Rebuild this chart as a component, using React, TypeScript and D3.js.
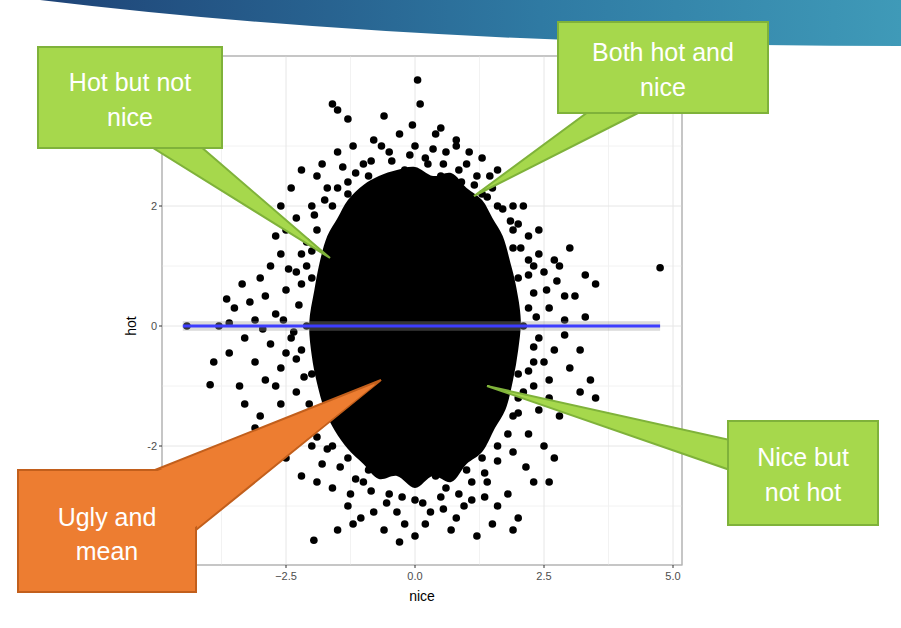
import * as d3 from "d3";

// dense core outline (data units)
const coreX = [0, 0.35, 0.7, 1.0, 1.3, 1.5, 1.7, 1.85, 1.95, 2.05, 2.0, 1.9, 1.75, 1.55, 1.3, 1.0, 0.7, 0.35, 0, -0.35, -0.7, -1.0, -1.3, -1.55, -1.75, -1.9, -2.0, -2.05, -1.95, -1.85, -1.7, -1.5, -1.3, -1.0, -0.7, -0.35];
const coreY = [2.65, 2.5, 2.55, 2.3, 2.1, 1.8, 1.5, 1.05, 0.7, 0.1, -0.4, -0.9, -1.4, -1.7, -2.1, -2.3, -2.6, -2.5, -2.7, -2.5, -2.55, -2.3, -2.05, -1.75, -1.4, -0.95, -0.5, 0.05, 0.6, 1.05, 1.5, 1.8, 2.1, 2.35, 2.5, 2.6];

// scattered points (nice, hot)
const pts: [number, number][] = [
  [-1.5, 2.9], [-1.2, 3.0], [-1.0, 2.7], [-0.8, 3.1], [-0.5, 2.9], [-0.3, 3.2], [0, 3.0], [0.2, 2.8], [0.4, 3.2], [0.6, 2.9],
  [0.8, 3.1], [1.0, 2.7], [1.2, 2.5], [1.3, 2.8], [-1.9, 2.5], [-2.2, 2.6], [-1.7, 2.3], [-0.9, 2.5], [0.1, 2.5], [0.5, 2.5],
  [0.9, 2.4], [-0.2, 2.6], [-1.3, 2.4], [1.5, 2.3], [1.6, 2.6], [-2.4, 2.3],
  [-2.0, 2.0], [-2.3, 1.8], [-2.5, 1.6], [-2.1, 1.4], [-2.6, 1.2], [-2.8, 1.0], [-2.3, 0.9], [1.9, 2.0], [2.0, 1.7], [2.2, 1.5],
  [1.9, 1.3], [2.4, 1.2], [2.5, 0.9], [2.3, 1.0], [2.7, 1.1], [2.8, 1.0], [3.3, 0.85], [3.5, 0.7], [2.9, 0.5], [3.1, 0.5],
  [-2.5, 0.6], [-2.9, 0.5], [-3.2, 0.4], [-3.5, 0.3], [-2.7, 0.2], [-3.1, 0.1], [-3.8, 0.0], [-3.6, 0.05], [-2.4, -0.2], [-2.8, -0.3],
  [-3.3, -0.2], [-3.6, -0.45], [-3.9, -0.6], [-3.1, -0.6], [-2.6, -0.7], [-2.9, -0.9], [-3.4, -1.0], [2.2, 0.3], [2.6, 0.3], [2.9, 0.1],
  [3.3, 0.15], [2.4, -0.2], [2.7, -0.4], [3.0, -0.7], [3.4, -0.9], [3.5, -1.2], [3.2, -1.1], [2.3, -0.6], [2.6, -0.9],
  [-2.3, -1.1], [-2.6, -1.3], [-3.0, -1.5], [-3.3, -1.3], [-2.2, -1.6], [-2.8, -1.8], [-3.1, -1.7], [-2.0, -2.0], [-2.5, -2.2], [-1.8, -2.3],
  [2.0, -1.2], [2.4, -1.4], [2.8, -1.5], [2.2, -1.8], [2.5, -2.0], [2.7, -2.2], [1.9, -2.1], [2.6, -2.6],
  [-1.6, -2.7], [-1.3, -3.0], [-1.0, -2.6], [-0.8, -3.1], [-0.5, -2.8], [-0.2, -3.3], [0, -2.9], [0.3, -3.1], [0.6, -2.7], [0.8, -3.2],
  [1.1, -2.9], [1.4, -2.6], [1.6, -3.0], [1.8, -2.8], [-1.5, -3.4], [-1.2, -3.3], [-0.6, -3.4], [-0.3, -3.6], [0.0, -3.5], [0.2, -3.3],
  [0.7, -3.4], [1.2, -3.5], [1.5, -3.3], [1.9, -3.4], [2.0, -3.2], [-1.96, -3.57], [-1.9, -2.6], [-0.9, -2.4], [0.4, -2.5], [1.0, -2.4],
  [0.05, 4.1], [-1.6, 3.7], [-1.5, 3.6], [-1.3, 3.45], [-0.6, 3.5], [0.1, 3.7], [0.5, 3.3], [0.8, 3.0], [4.75, 0.97], [-3.97, -0.98],
  [-4.42, 0.0], [-3.65, 0.45],
  [-1.9, 1.6], [-2.0, 0.8], [-2.1, 0.0], [-2.0, -0.8], [-1.9, -1.5], [1.9, 1.6], [2.0, 0.8], [2.1, 0.0], [2.0, -0.8], [1.9, -1.5],
  [-1.3, 2.2], [1.3, 2.2], [-1.3, -2.2], [1.3, -2.2], [0, 2.4], [0, -2.4], [-0.7, 2.4], [0.7, 2.4], [-0.7, -2.4], [0.7, -2.4],
  [-2.2, 1.2], [-2.2, -0.4], [2.2, 1.1], [2.3, -1.0], [-1.6, 2.0], [1.6, 2.0], [-1.6, -2.0], [1.6, -2.0],
  // dense fringe just outside the core
  [-2.25, 0.35], [-2.35, -0.1], [-2.3, -0.55], [-2.15, -0.85], [-2.2, 0.7], [-2.1, 1.0], [-2.0, 1.25], [-1.95, 1.85], [-1.75, 2.1], [-1.5, 2.3],
  [-1.15, 2.55], [-0.85, 2.75], [-0.45, 2.75], [-0.1, 2.85], [0.25, 2.7], [0.55, 2.7], [0.85, 2.6], [1.15, 2.35], [1.4, 2.15], [1.7, 1.95],
  [1.85, 1.75], [2.05, 1.3], [2.2, 0.85], [2.3, 0.55], [2.35, 0.15], [2.3, -0.35], [2.2, -0.75], [2.1, -1.1], [2.0, -1.45], [1.8, -1.8],
  [1.6, -2.25], [1.35, -2.45], [1.1, -2.6], [0.85, -2.8], [0.5, -2.85], [0.15, -2.95], [-0.25, -2.85], [-0.55, -2.95], [-0.85, -2.75], [-1.15, -2.55],
  [-1.45, -2.35], [-1.7, -2.05], [-1.9, -1.85], [-2.05, -1.3], [-2.15, -1.5], [-2.45, 0.95], [-2.5, -0.45], [-2.55, 0.1], [2.55, 0.6], [2.5, -0.6],
  [-1.4, 2.65], [-0.65, 3.0], [0.35, 2.95], [1.05, 2.9], [1.45, 2.5], [-1.8, 2.7], [2.1, 2.0], [2.4, 1.6], [-2.7, 1.5], [-2.6, 2.0],
  [-1.25, -2.8], [-0.35, -3.1], [0.55, -3.05], [1.35, -2.85], [2.15, -2.35], [-2.35, -1.9], [-2.7, -1.0], [2.6, -1.2], [-1.05, -3.2], [0.95, -3.0],
  [2.9, -0.15], [2.75, 0.75], [-3.0, 0.8], [-2.95, -0.05], [3.2, -0.4], [-3.35, 0.7], [3.0, 1.3], [-2.2, -2.5], [2.3, -2.6], [-0.05, 3.35],
];

const xTicks = [-2.5, 0, 2.5, 5];
const yTicks = [-2, 0, 2];
const xMinor = [-3.75, -1.25, 1.25, 3.75];
const yMinor = [-3, -1, 1, 3];
const fitX = [-4.5, 4.75];
const fitY = [0, 0];

const P = { left: 162, right: 682, top: 56, bottom: 565 };

export default function App() {
  const x = d3.scaleLinear().domain([0, 2.5]).range([415, 544]);
  const y = d3.scaleLinear().domain([0, 2]).range([326, 206]);
  const core = d3.line<number>().x((i) => x(coreX[i])).y((i) => y(coreY[i])).curve(d3.curveCatmullRomClosed)(coreX.map((_, i) => i))!;
  const fit = d3.line<number>().x((i) => x(fitX[i])).y((i) => y(fitY[i]))(fitX.map((_, i) => i))!;
  const green = "#a6d84c", greenS = "#7fb23a", orange = "#ed7d31", orangeS = "#c25f1c";
  const ct = { fill: "#fff", fontSize: 25, fontFamily: "'Liberation Sans Narrow','Liberation Sans',Arial,sans-serif", textAnchor: "middle" as const };
  return (
    <div style={{ position: "fixed", left: 0, top: 0 }}>
      <svg width={901} height={628} style={{ display: "block", background: "#fff" }}>
        <defs>
          <linearGradient id="hdr" x1="0" x2="1" y1="0" y2="0">
            <stop offset="0%" stopColor="#1d3f73" />
            <stop offset="60%" stopColor="#2f7aa3" />
            <stop offset="100%" stopColor="#3f9ab8" />
          </linearGradient>
        </defs>
        <path d="M0,0 L901,0 L901,46 Q420,46 40,0 Z" fill="url(#hdr)" />
        <rect x={P.left} y={P.top} width={P.right - P.left} height={P.bottom - P.top} fill="#fff" stroke="#b3b3b3" />
        {xMinor.map((t) => <line key={"xm" + t} x1={x(t)} x2={x(t)} y1={P.top} y2={P.bottom} stroke="#f2f2f2" />)}
        {yMinor.map((t) => <line key={"ym" + t} y1={y(t)} y2={y(t)} x1={P.left} x2={P.right} stroke="#f2f2f2" />)}
        {xTicks.map((t) => <line key={"x" + t} x1={x(t)} x2={x(t)} y1={P.top} y2={P.bottom} stroke="#e6e6e6" />)}
        {yTicks.map((t) => <line key={"y" + t} y1={y(t)} y2={y(t)} x1={P.left} x2={P.right} stroke="#e6e6e6" />)}
        <path d={core} fill="#000" />
        {pts.map(([a, b], i) => <circle key={i} cx={x(a)} cy={y(b)} r={3.8} fill="#000" />)}
        <rect x={x(fitX[0])} y={y(0.08)} width={x(fitX[1]) - x(fitX[0])} height={y(-0.08) - y(0.08)} fill="#999" opacity={0.35} />
        <path d={fit} stroke="#3d3dff" strokeWidth={3} fill="none" />
        <rect x={P.left} y={P.top} width={P.right - P.left} height={P.bottom - P.top} fill="none" stroke="#b3b3b3" />
        {xTicks.map((t) => (
          <g key={"xt" + t}>
            <line x1={x(t)} x2={x(t)} y1={P.bottom} y2={P.bottom + 3} stroke="#333" />
            <text x={x(t)} y={P.bottom + 15} fontSize={11} fill="#4d4d4d" textAnchor="middle" fontFamily="Liberation Sans, Arial">{d3.format(".1f")(t)}</text>
          </g>
        ))}
        {yTicks.map((t) => (
          <g key={"yt" + t}>
            <line x1={P.left - 3} x2={P.left} y1={y(t)} y2={y(t)} stroke="#333" />
            <text x={P.left - 5} y={y(t) + 4} fontSize={11} fill="#4d4d4d" textAnchor="end" fontFamily="Liberation Sans, Arial">{t}</text>
          </g>
        ))}
        <text x={(P.left + P.right) / 2} y={601} fontSize={14} textAnchor="middle" fontFamily="Liberation Sans, Arial">nice</text>
        <text transform={`translate(136,${y(0)}) rotate(-90)`} fontSize={14} textAnchor="middle" fontFamily="Liberation Sans, Arial">hot</text>

        <polygon points="150,146 200,146 330,258" fill={green} stroke={greenS} strokeWidth={2} />
        <rect x={38} y={47} width={184} height={101} fill={green} stroke={greenS} strokeWidth={2} />
        <polygon points="588,112 640,112 474,196" fill={green} stroke={greenS} strokeWidth={2} />
        <rect x={558} y={22} width={210} height={91} fill={green} stroke={greenS} strokeWidth={2} />
        <polygon points="730,440 730,470 487,386" fill={green} stroke={greenS} strokeWidth={2} />
        <rect x={728} y={421} width={150} height={104} fill={green} stroke={greenS} strokeWidth={2} />
        <polygon points="150,472 196,472 196,530 381,380" fill={orange} stroke={orangeS} strokeWidth={2} />
        <rect x={18} y={470} width={178} height={122} fill={orange} stroke={orangeS} strokeWidth={2} />
        <polygon points="150,474 194,474 194,528 376,384" fill={orange} />

        <text {...ct} x={130} y={91}>Hot but not</text>
        <text {...ct} x={130} y={126}>nice</text>
        <text {...ct} x={663} y={61}>Both hot and</text>
        <text {...ct} x={663} y={96}>nice</text>
        <text {...ct} x={803} y={466}>Nice but</text>
        <text {...ct} x={803} y={501}>not hot</text>
        <text {...ct} x={107} y={526}>Ugly and</text>
        <text {...ct} x={107} y={560}>mean</text>
      </svg>
    </div>
  );
}
